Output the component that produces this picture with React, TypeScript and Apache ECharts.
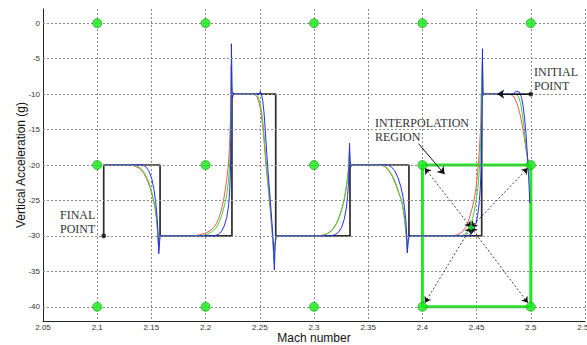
import React, { useEffect, useRef } from "react";
import * as echarts from "echarts";

type Pt = [number, number];

const xMin = 2.05;
const xMax = 2.55;
const xStep = 0.05;
const yMin = -42;
const yMax = 2;
const yTicks = [0, -5, -10, -15, -20, -25, -30, -35, -40];
const nodeX = [2.1, 2.2, 2.3, 2.4, 2.5];
const nodeY = [0, -20, -40];

// Reference (commanded) step path, from final point to initial point
const stepPath: Pt[] = [
  [2.106, -30], [2.106, -20], [2.158, -20], [2.158, -30], [2.2243, -30], [2.2243, -10],
  [2.2647, -10], [2.2647, -30], [2.3332, -30], [2.3332, -20], [2.3876, -20], [2.3876, -30],
  [2.4547, -30], [2.4547, -10], [2.5, -10],
];

const redCurve: Pt[] = [
  [2.106, -20], [2.128, -20], [2.134, -20.1], [2.139, -20.5], [2.143, -21.2], [2.146, -22.1], [2.149, -23.3],
  [2.151, -24.4], [2.153, -25.8], [2.1545, -27.2], [2.1555, -29], [2.1565, -31.3], [2.1575, -30.2], [2.159, -30],
  [2.188, -30], [2.193, -29.9], [2.2, -29.6], [2.205, -29.2], [2.209, -28.5], [2.212, -27.6], [2.2145, -26.4],
  [2.2165, -25], [2.218, -23.6], [2.2195, -22], [2.221, -20], [2.222, -17.5], [2.223, -13.5], [2.2236, -6],
  [2.2242, -10.5], [2.226, -10],
  [2.245, -10], [2.2475, -10.4], [2.2495, -11.3], [2.251, -12.5], [2.2523, -14], [2.254, -16.8], [2.2557, -20],
  [2.2573, -22.5], [2.2588, -25], [2.2603, -27.5], [2.2615, -29.8], [2.263, -33.2], [2.264, -31], [2.2655, -30],
  [2.303, -30], [2.308, -29.9], [2.313, -29.6], [2.317, -29.1], [2.3205, -28.3], [2.3235, -27.2], [2.326, -26],
  [2.328, -24.8], [2.3295, -23.5], [2.331, -21.8], [2.332, -20.3], [2.3326, -18.3], [2.3332, -19.8], [2.335, -20],
  [2.361, -20], [2.365, -20.2], [2.369, -20.8], [2.3725, -21.7], [2.3755, -22.8], [2.378, -23.9], [2.3809, -25],
  [2.3825, -26.5], [2.384, -28.3], [2.385, -30], [2.386, -31.8], [2.387, -30.3], [2.389, -30],
  [2.428, -30], [2.433, -29.8], [2.437, -29.4], [2.4405, -28.7], [2.4433, -27.5], [2.4455, -26.3], [2.4476, -25],
  [2.4495, -23.2], [2.451, -21], [2.4525, -18], [2.454, -14], [2.4548, -8], [2.4553, -5.5], [2.4558, -10], [2.457, -10],
  [2.481, -10], [2.4845, -10.4], [2.4875, -11.4], [2.49, -12.8], [2.492, -14.3], [2.494, -16.2], [2.4958, -18],
  [2.4975, -19.4], [2.499, -20.2], [2.5, -20],
];

const greenCurve: Pt[] = [
  [2.106, -20], [2.131, -20], [2.136, -20.1], [2.1405, -20.5], [2.1443, -21.3], [2.1473, -22.3], [2.15, -23.6],
  [2.152, -24.9], [2.1538, -26.4], [2.155, -28], [2.156, -30], [2.1567, -32], [2.1578, -30.1], [2.159, -30],
  [2.195, -30], [2.2, -29.85], [2.205, -29.5], [2.2095, -28.9], [2.2128, -28], [2.2155, -26.8], [2.2175, -25.6],
  [2.2195, -24.2], [2.221, -22.4], [2.222, -20.5], [2.223, -17], [2.2236, -12], [2.224, -4.5], [2.2246, -10.2], [2.226, -10],
  [2.2465, -10], [2.2485, -10.4], [2.2503, -11.3], [2.2518, -12.6], [2.253, -14.2], [2.2546, -17], [2.2562, -20.2],
  [2.2578, -22.8], [2.2592, -25.2], [2.2606, -27.7], [2.2618, -30], [2.2632, -33.8], [2.2642, -31], [2.2655, -30],
  [2.305, -30], [2.31, -29.85], [2.3148, -29.5], [2.3185, -28.9], [2.3217, -28], [2.3242, -27], [2.3265, -25.8],
  [2.3283, -24.5], [2.3298, -23], [2.3312, -21.4], [2.3322, -19.8], [2.3327, -17.8], [2.3333, -19.9], [2.335, -20],
  [2.362, -20], [2.3658, -20.2], [2.3695, -20.8], [2.373, -21.7], [2.376, -22.8], [2.3785, -24], [2.3811, -25.2],
  [2.3828, -26.7], [2.3842, -28.5], [2.3852, -30], [2.386, -32.2], [2.3872, -30.2], [2.389, -30],
  [2.4355, -30], [2.439, -29.8], [2.442, -29.3], [2.4445, -28.5], [2.4464, -27.5], [2.4482, -26.2], [2.4497, -25],
  [2.4512, -23.2], [2.4524, -21], [2.4535, -18], [2.4543, -14], [2.455, -7], [2.4554, -4.5], [2.4559, -10], [2.457, -10],
  [2.4868, -10], [2.4888, -10.4], [2.4905, -11.3], [2.492, -12.6], [2.4933, -14.2], [2.4945, -15.8], [2.4958, -17.5],
  [2.4972, -19.2], [2.4988, -20.4], [2.5, -20.1],
];

const blueCurve: Pt[] = [
  [2.106, -20], [2.141, -20], [2.1445, -20.2], [2.1475, -20.8], [2.1503, -21.9], [2.1523, -23.4], [2.154, -25.3],
  [2.1552, -27.3], [2.1561, -29.5], [2.1568, -32.5], [2.1575, -31], [2.158, -30], [2.159, -30],
  [2.208, -30], [2.2115, -29.8], [2.2145, -29.4], [2.2172, -28.6], [2.2195, -27.4], [2.2212, -25.8], [2.2222, -23.8],
  [2.2229, -21], [2.2233, -17], [2.2236, -11], [2.2238, -2.9], [2.2242, -9], [2.2248, -10.6], [2.2255, -9.8], [2.227, -10],
  [2.2495, -10], [2.2505, -9.6], [2.2515, -10], [2.2528, -11], [2.254, -12.8], [2.2552, -15.5], [2.2565, -18.5],
  [2.2578, -21.3], [2.2592, -24], [2.2605, -26.6], [2.2617, -29.2], [2.2627, -31.5], [2.2634, -34.8], [2.2641, -31.5],
  [2.2648, -30], [2.266, -30],
  [2.315, -30], [2.319, -29.85], [2.3225, -29.5], [2.3255, -28.8], [2.3278, -27.7], [2.3297, -26.2], [2.331, -24.4],
  [2.3319, -22.3], [2.3324, -20], [2.3328, -16.9], [2.3333, -19.5], [2.3345, -20.2], [2.336, -20],
  [2.3675, -20], [2.371, -20.2], [2.3745, -20.8], [2.3775, -21.8], [2.38, -23], [2.382, -24.4], [2.3835, -26],
  [2.3847, -27.8], [2.3855, -29.8], [2.3861, -32.4], [2.3868, -30.8], [2.3878, -30], [2.389, -30],
  [2.4415, -30], [2.4445, -29.8], [2.447, -29.3], [2.4492, -28.4], [2.451, -27.1], [2.4523, -25.5], [2.4533, -23.5],
  [2.4541, -21], [2.4547, -17], [2.4551, -11], [2.4554, -3.6], [2.4558, -9.5], [2.4565, -10.2], [2.457, -10],
  [2.4835, -10], [2.4865, -9.6], [2.4895, -9.7], [2.4915, -10.5], [2.493, -11.8], [2.4943, -13.5], [2.4955, -15.5],
  [2.4966, -18], [2.4976, -20.5], [2.4984, -23], [2.4991, -25.4],
];

const boxCorners: Pt[] = [[2.4, -20], [2.5, -20], [2.5, -40], [2.4, -40]];
const interpPoint: Pt = [2.4448, -28.8];
const finalPoint: Pt = [2.106, -30];
const initialPoint: Pt = [2.5, -10];
const initialArrowTip: Pt = [2.469, -10];
const regionArrow: Pt[] = [[2.3965, -17.0], [2.4205, -21.3]];

const serif = "'Liberation Serif', 'Times New Roman', serif";
const sans = "'Liberation Sans', Arial, sans-serif";

function buildOption(): any {
  const nodes: Pt[] = [];
  nodeY.forEach((y) => nodeX.forEach((x) => nodes.push([x, y])));

  const shrink = (c: Pt, f: number): Pt => [c[0] + (interpPoint[0] - c[0]) * f, c[1] + (interpPoint[1] - c[1]) * f];
  const dottedArrows = boxCorners.map((c) => [
    { coord: shrink(c, 0.05) },
    { coord: interpPoint },
  ]);

  const curveSeries = (data: Pt[], color: string) => ({
    type: "line",
    data,
    symbol: "none",
    silent: true,
    lineStyle: { color, width: 1 },
    z: 4,
  });

  const textStyle = (text: string, x: number, y: number) => ({
    type: "text",
    left: x,
    top: y,
    silent: true,
    style: { text, fill: "#333", font: `12px ${serif}` },
    z: 20,
  });

  return {
    animation: false,
    backgroundColor: "#fff",
    grid: { left: 43, right: 2, top: 9, bottom: 24, containLabel: false, outerBoundsMode: "none" },
    xAxis: {
      type: "value",
      min: xMin,
      max: xMax,
      interval: xStep,
      name: "Mach number",
      nameLocation: "middle",
      nameGap: 11,
      nameMoveOverlap: false,
      nameTextStyle: { fontSize: 12, color: "#111", fontFamily: sans },
      axisLine: { show: true, onZero: false, lineStyle: { color: "#222", width: 1 } },
      axisTick: { show: false },
      axisLabel: {
        fontSize: 8,
        color: "#333",
        margin: 2,
        fontFamily: sans,
        showMinLabel: true,
        showMaxLabel: true,
        formatter: (v: number) => String(parseFloat(v.toFixed(2))),
      },
      splitLine: { show: true, lineStyle: { type: [2, 2], color: "#8a8a8a", width: 1 } },
    },
    yAxis: {
      type: "value",
      min: yMin,
      max: yMax,
      name: "Vertical Acceleration (g)",
      nameLocation: "middle",
      nameGap: 16,
      nameMoveOverlap: false,
      nameTextStyle: { fontSize: 12, color: "#111", fontFamily: sans },
      axisLine: { show: true, onZero: false, lineStyle: { color: "#222", width: 1 } },
      axisTick: { show: false },
      axisLabel: {
        fontSize: 8,
        color: "#333",
        margin: 3,
        fontFamily: sans,
        customValues: yTicks,
        formatter: (v: number) => String(v),
      },
      splitLine: { show: false },
    },
    series: [
      {
        type: "line",
        data: [[xMin, yMin]],
        symbol: "none",
        silent: true,
        lineStyle: { width: 0 },
        z: 1,
        markLine: {
          silent: true,
          symbol: "none",
          label: { show: false },
          lineStyle: { type: [2, 2], color: "#8a8a8a", width: 1 },
          data: yTicks.map((v) => ({ yAxis: v })),
        },
      },
      {
        type: "line",
        data: stepPath,
        symbol: "none",
        silent: true,
        lineStyle: { color: "#2b2b2b", width: 1.7 },
        z: 2,
      },
      {
        type: "line",
        data: [...boxCorners, boxCorners[0]],
        symbol: "none",
        silent: true,
        lineStyle: { color: "#22e822", width: 3 },
        z: 3,
      },
      curveSeries(redCurve, "#ff5555"),
      curveSeries(greenCurve, "#33dd33"),
      curveSeries(blueCurve, "#2a2aff"),
      {
        type: "line",
        data: [interpPoint],
        symbol: "none",
        silent: true,
        z: 6,
        markLine: {
          silent: true,
          symbol: ["arrow", "arrow"],
          symbolSize: 6,
          label: { show: false },
          lineStyle: { type: [2, 2], color: "#111", width: 0.8 },
          data: dottedArrows,
        },
      },
      {
        type: "line",
        data: [initialPoint],
        symbol: "none",
        silent: true,
        z: 7,
        markLine: {
          silent: true,
          symbol: ["none", "arrow"],
          symbolSize: 7,
          label: { show: false },
          lineStyle: { type: "solid", color: "#111", width: 1 },
          data: [
            [{ coord: regionArrow[0] }, { coord: regionArrow[1] }],
            [{ coord: initialPoint }, { coord: initialArrowTip }],
          ],
        },
      },
      {
        type: "scatter",
        data: nodes,
        symbol: "circle",
        symbolSize: 9,
        silent: true,
        itemStyle: { color: "#11ee11", borderColor: "#0a8a0a", borderWidth: 0.7 },
        z: 10,
      },
      {
        type: "scatter",
        data: [interpPoint],
        symbolSize: 5,
        silent: true,
        itemStyle: { color: "#11ee11", borderColor: "#0a6a0a", borderWidth: 0.5 },
        z: 11,
      },
      {
        type: "scatter",
        data: [finalPoint, initialPoint],
        symbolSize: 5,
        silent: true,
        itemStyle: { color: "#111" },
        z: 11,
      },
    ],
    graphic: [
      textStyle("FINAL", 60, 209),
      textStyle("POINT", 60, 223),
      textStyle("INITIAL", 534, 66),
      textStyle("POINT", 534, 80),
      textStyle("INTERPOLATION", 375, 117),
      textStyle("REGION", 375, 131),
    ],
  };
}

export default function App() {
  const ref = useRef<HTMLDivElement>(null);
  useEffect(() => {
    if (!ref.current) return;
    const chart = echarts.init(ref.current, null, { renderer: "svg", width: 587, height: 345 });
    chart.setOption(buildOption());
    return () => chart.dispose();
  }, []);
  return (
    <div
      ref={ref}
      style={{ position: "fixed", left: 0, top: 0, width: 587, height: 345, background: "#fff", overflow: "hidden" }}
    />
  );
}
